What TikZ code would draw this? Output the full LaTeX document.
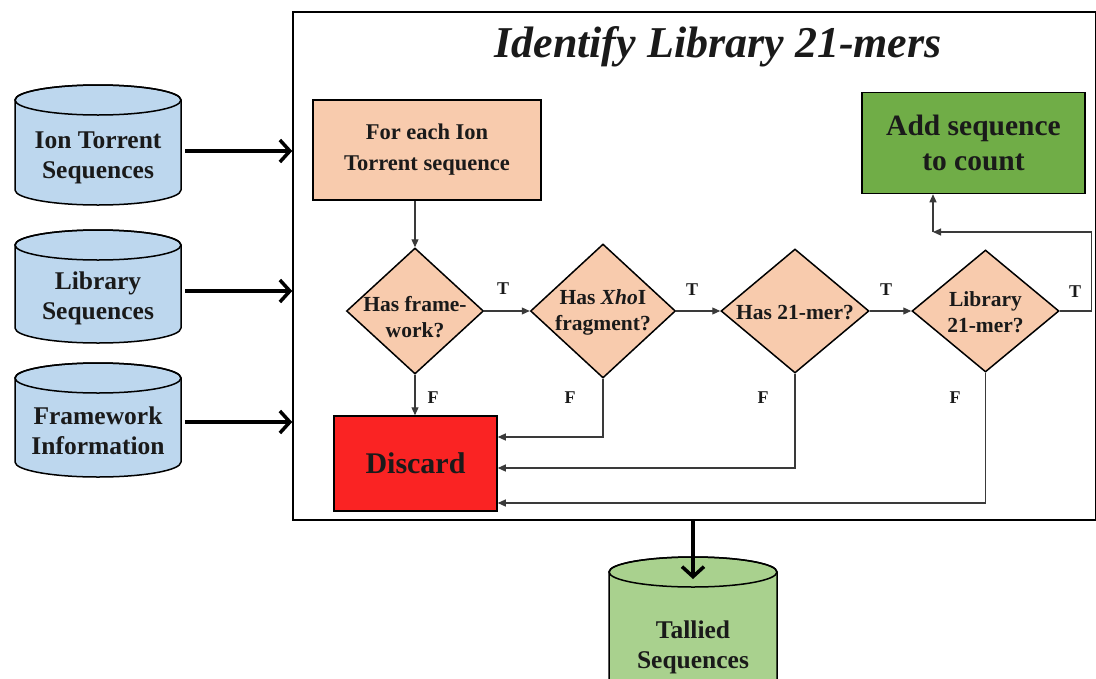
\documentclass[tikz,border=0pt]{standalone}
\usepackage{fontspec}
\setmainfont{Liberation Serif}
\usetikzlibrary{shapes.geometric,arrows.meta,calc}
\definecolor{peach}{HTML}{F8CBAD}
\definecolor{cylblue}{HTML}{BDD7EE}
\definecolor{boxgreen}{HTML}{70AD47}
\definecolor{cylgreen}{HTML}{A9D18E}
\definecolor{discred}{HTML}{FA2323}
\definecolor{conncol}{HTML}{3A3A3A}
\definecolor{txtcol}{HTML}{1A1A1A}
% #1 left, #2 right, #3 top, #4 bottom, #5 colour, #6 centre x, #7 x radius
\newcommand{\mycyl}[7]{%
  \filldraw[fill=#5, draw=black, line width=1.5pt] (#1,#3+15) -- (#1,#4-15) arc[start angle=180, end angle=0, x radius=#7, y radius=15] -- (#2,#3+15) arc[start angle=0, end angle=-180, x radius=#7, y radius=15] -- cycle;
  \draw[line width=1.5pt] (#6,#3+15) ellipse [x radius=#7, y radius=15];
}
\begin{document}
\begin{tikzpicture}[x=1pt,y=-1pt,
  txt/.style={font=\bfseries, align=center, text=txtcol, inner sep=0pt},
  cyltxt/.style={txt, font=\bfseries\fontsize{25.5}{30}\selectfont, minimum width=166pt},
  dtext/.style={txt, font=\bfseries\fontsize{21.5}{26}\selectfont},
  lbl/.style={txt, font=\bfseries\fontsize{18}{20}\selectfont},
  procbox/.style={draw=black, line width=1.5pt, align=center, text=txtcol, inner sep=0pt},
  decision/.style={diamond, draw=black, line width=1.5pt, fill=peach, inner sep=0pt},
  conn/.style={draw=conncol, line width=1.1pt, -{Triangle[length=8pt,width=7pt]}},
  bigarr/.style={draw=black, line width=3.5pt, -{Straight Barb[length=10pt,width=22pt]}}
]
\useasboundingbox (0,0) rectangle (1096,678);
\fill[white] (0,0) rectangle (1096,678);

% main frame
\node[draw=black, line width=1.5pt, minimum width=803pt, minimum height=508pt, inner sep=0pt] (frame) at (694.5,266) {};
\node[txt, font=\bfseries\itshape\fontsize{44}{50}\selectfont] (title) at (718,47) {Identify Library 21-mers};

% input cylinders
\mycyl{15}{181}{85}{205}{cylblue}{98}{83}
\node[cyltxt] (ion) at (98,158) {Ion Torrent\\Sequences};
\mycyl{15}{181}{230}{343}{cylblue}{98}{83}
\node[cyltxt] (lib) at (98,298) {Library\\Sequences};
\mycyl{15}{181}{363}{477}{cylblue}{98}{83}
\node[cyltxt] (fw) at (98,431) {Framework\\Information};

\path ($(ion.east)+(4,-7)$) coordinate (a1);
\path ($(lib.east)+(4,-7)$) coordinate (a2);
\path ($(fw.east)+(4,-9)$) coordinate (a3);
\draw[bigarr] (a1) -- (a1 -| frame.west);
\draw[bigarr] (a2) -- (a2 -| frame.west);
\draw[bigarr] (a3) -- (a3 -| frame.west);

% process boxes
\node[procbox, fill=peach, minimum width=228pt, minimum height=100pt, font=\bfseries\fontsize{22.5}{31}\selectfont] (start) at (427,150) {For each Ion\\Torrent sequence};
\node[procbox, fill=boxgreen, minimum width=223pt, minimum height=101pt, font=\bfseries\fontsize{29.5}{35}\selectfont] (add) at (973.5,143) {Add sequence\\to count};
\node[procbox, fill=discred, minimum width=163pt, minimum height=95pt, font=\bfseries\fontsize{30}{34}\selectfont] (discard) at (415.5,463.5) {Discard};

% decisions
\node[decision, minimum width=137pt, minimum height=126pt] (d1) at (415,311) {};
\node[dtext] (d1t) at (415,317) {Has frame-\\work?};
\node[decision, minimum width=145pt, minimum height=134pt] (d2) at (603,311) {};
\node[dtext] (d2t) at (603,312) {Has \textit{Xho}I\\fragment?};
\node[decision, minimum width=148pt, minimum height=124pt] (d3) at (795,311) {};
\node[dtext] (d3t) at (795,313) {Has 21-mer?};
\node[decision, minimum width=147pt, minimum height=122pt] (d4) at (985.5,311) {};
\node[dtext] (d4t) at (985.5,312) {Library\\21-mer?};

% connectors
\draw[conn] (d1.north |- start.south) -- (d1.north);
\draw[conn] (d1.east) -- (d2.west);
\draw[conn] (d2.east) -- (d3.west);
\draw[conn] (d3.east) -- (d4.west);
\coordinate (loop) at (933,232);
\draw[conn] (d4.east) -- ++(32,0) |- (loop);
\draw[conn] (loop) -- (loop |- add.south);

\draw[conn] (d1.south) -- (d1.south |- discard.north);
\draw[conn] (d2.south) |- ([yshift=26.5pt]discard.east);
\draw[conn] (d3.south) |- ([yshift=-4.5pt]discard.east);
\draw[conn] (d4.south) |- ([yshift=-39.5pt]discard.east);

% labels
\node[lbl] (t1) at (503,289) {T};
\node[lbl] (t2) at (692,290) {T};
\node[lbl] (t3) at (886,290) {T};
\node[lbl] (t4) at (1075,292) {T};
\node[lbl] (f1) at (433,398) {F};
\node[lbl] (f2) at (570,398) {F};
\node[lbl] (f3) at (763,398) {F};
\node[lbl] (f4) at (955,398) {F};

% output cylinder
\mycyl{609}{777}{557}{700}{cylgreen}{693}{84}
\node[cyltxt, minimum width=168pt] (tally) at (693,647) {Tallied\\Sequences};
\coordinate (tallytop) at (693,579);
\draw[bigarr] (frame.south -| tallytop) -- (tallytop);
\end{tikzpicture}
\end{document}
